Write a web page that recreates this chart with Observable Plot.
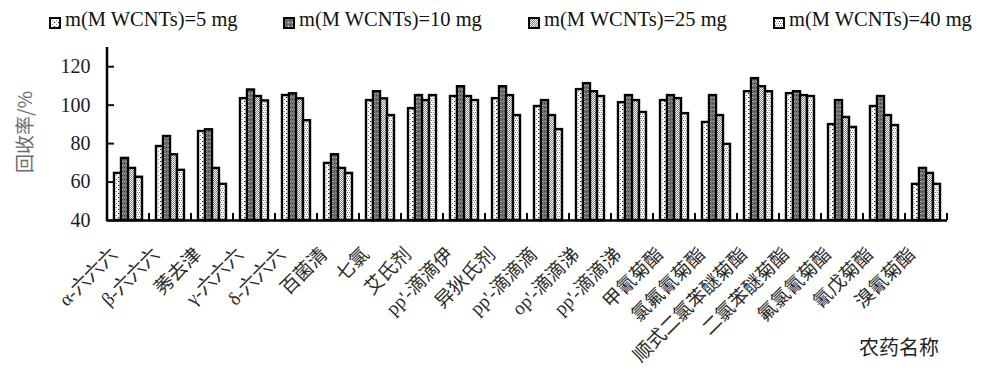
<!DOCTYPE html>
<html><head><meta charset="utf-8">
<script src="https://cdn.jsdelivr.net/npm/d3@7"></script>
<script src="https://cdn.jsdelivr.net/npm/@observablehq/plot@0.6"></script>
<style>
body{margin:0;background:#fff;}
#wrap{position:relative;width:989px;height:392px;overflow:hidden;font-family:"Liberation Serif","Noto Sans CJK SC",serif;}
#chart{position:absolute;left:0;top:0;}
.leg{position:absolute;top:9px;font-size:20.5px;line-height:20px;color:#111;white-space:nowrap;font-family:"Liberation Serif",serif;}
.sw{position:absolute;top:17px;width:12px;height:12px;}
#ytitle{position:absolute;left:24px;top:132px;transform:translate(-50%,-50%) rotate(-90deg);font-size:19px;color:#6b6b6b;white-space:nowrap;font-family:"Noto Sans CJK SC",sans-serif;line-height:20px;}
#xtitle{position:absolute;left:859px;top:337px;font-size:20px;line-height:20px;color:#222;white-space:nowrap;font-family:"Noto Sans CJK SC",sans-serif;}
</style></head><body>
<svg width="0" height="0" style="position:absolute">
<defs>
<pattern id="p5" width="4" height="4" patternUnits="userSpaceOnUse" shape-rendering="crispEdges">
 <rect width="4" height="4" fill="#fff"/><rect x="1" y="1" width="1" height="1" fill="#000"/><rect x="3" y="3" width="1" height="1" fill="#888"/>
</pattern>
<pattern id="p10" width="4" height="4" patternUnits="userSpaceOnUse" shape-rendering="crispEdges">
 <rect width="4" height="4" fill="#767676"/><rect x="1" y="1" width="1" height="1" fill="#eee"/><rect x="3" y="3" width="1" height="1" fill="#333"/>
</pattern>
<pattern id="p25" width="2" height="2" patternUnits="userSpaceOnUse" shape-rendering="crispEdges">
 <rect width="2" height="2" fill="#fff"/><rect x="0" y="0" width="1" height="1" fill="#808080"/><rect x="1" y="1" width="1" height="1" fill="#808080"/>
</pattern>
<pattern id="p40" width="4" height="4" patternUnits="userSpaceOnUse" shape-rendering="crispEdges">
 <rect width="4" height="4" fill="#fff"/><rect x="0" y="0" width="1" height="1" fill="#777"/><rect x="2" y="0" width="1" height="1" fill="#777"/><rect x="1" y="2" width="1" height="1" fill="#999"/><rect x="3" y="2" width="1" height="1" fill="#999"/>
</pattern>
</defs></svg>
<div id="wrap">
  <div id="chart"></div>
  <div id="ytitle">回收率/%</div>
  <div id="xtitle">农药名称</div>
</div>
<script>
const categories = ["α-六六六","β-六六六","莠去津","γ-六六六","δ-六六六","百菌清","七氯","艾氏剂","pp'-滴滴伊","异狄氏剂","pp'-滴滴滴","op'-滴滴涕","pp'-滴滴涕","甲氰菊酯","氯氟氰菊酯","顺式二氯苯醚菊酯","二氯苯醚菊酯","氟氯氰菊酯","氰戊菊酯","溴氰菊酯"];
const seriesNames = ["m(M WCNTs)=5 mg","m(M WCNTs)=10 mg","m(M WCNTs)=25 mg","m(M WCNTs)=40 mg"];
const seriesPatterns = ["url(#p5)","url(#p10)","url(#p25)","url(#p40)"];
const m5  = [64.5, 78.5, 86.3, 103.4, 105.0, 69.7, 102.4, 98.2, 104.5, 103.4, 99.3, 108.1, 101.3, 102.4, 91.0, 107.0, 106.0, 89.9, 99.3, 58.8];
const m10 = [72.3, 83.7, 87.2, 107.9, 105.9, 74.2, 107.0, 105.0, 109.6, 109.6, 102.4, 111.2, 105.0, 105.0, 105.0, 113.8, 107.0, 102.4, 104.5, 67.1];
const m25 = [67.1, 74.2, 67.1, 104.5, 103.3, 67.1, 103.3, 102.4, 104.5, 105.0, 94.6, 107.0, 102.4, 103.4, 94.6, 109.6, 105.0, 93.6, 94.6, 64.5];
const m40 = [62.5, 66.1, 58.8, 102.2, 91.9, 64.5, 94.6, 105.0, 102.4, 94.6, 87.3, 104.5, 96.2, 95.6, 79.6, 107.0, 104.5, 88.4, 89.4, 58.8];
const yTicks = [40, 60, 80, 100, 120];
const yMin = 40, yMax = 130;

const seriesValues = [m5, m10, m25, m40];
const rows = categories.flatMap((c, i) => seriesNames.map((s, j) => ({cat: c, series: s, value: seriesValues[j][i], fill: seriesPatterns[j]})));

const chart = Plot.plot({
  width: 989, height: 392,
  marginLeft: 102, marginRight: 37, marginTop: 47, marginBottom: 172,
  style: {fontFamily: "'Liberation Serif','Noto Sans CJK SC',serif", background: "transparent", color: "#111"},
  fx: {domain: categories, padding: 0, axis: null},
  x: {domain: seriesNames, paddingInner: 0, paddingOuter: 0.65, axis: null},
  y: {domain: [yMin, yMax], axis: null},
  color: {type: "identity"},
  marks: [
    Plot.barY(rows, {fx: "cat", x: "series", y1: yMin, y2: "value", fill: "fill", stroke: "#000", strokeWidth: 2.4}),
    Plot.ruleY([yMin], {stroke: "#000", strokeWidth: 2.5}),
    Plot.axisY(yTicks, {anchor: "left", tickSize: -7, tickPadding: 24, strokeWidth: 2, fontSize: 20, fill: "#1a1a2a", label: null}),
    Plot.text(categories, {fx: d => d, text: d => d, frameAnchor: "bottom", rotate: -45, textAnchor: "end", dx: -10, dy: 35, fontSize: 19, fill: "#2a2a2a"})
  ]
});
document.getElementById("chart").appendChild(chart);

// axis line and group boundary ticks, positioned with Plot's own scales
const ys = chart.scale("y"), fxs = chart.scale("fx");
const s = d3.select(chart);
const left = fxs.apply(categories[0]);
s.append("line").attr("x1", left).attr("x2", left).attr("y1", ys.apply(yMax)).attr("y2", ys.apply(yMin) + 1.25)
  .attr("stroke", "#000").attr("stroke-width", 2.5);
const bounds = categories.slice(1).map(c => fxs.apply(c));
bounds.push(fxs.apply(categories[categories.length - 1]) + fxs.bandwidth);
for (const b of bounds) {
  s.append("line").attr("x1", b).attr("x2", b).attr("y1", ys.apply(yMin)).attr("y2", ys.apply(yMin) - 7)
    .attr("stroke", "#000").attr("stroke-width", 2);
}

// legend
const wrap = document.getElementById("wrap");
const legX = [49, 283, 528, 773];
seriesNames.forEach((name, j) => {
  const sw = document.createElementNS("http://www.w3.org/2000/svg", "svg");
  sw.setAttribute("class", "sw"); sw.setAttribute("width", 12); sw.setAttribute("height", 12);
  sw.style.left = legX[j] + "px";
  sw.innerHTML = `<rect x="1" y="1" width="10" height="10" fill="${seriesPatterns[j]}" stroke="#000" stroke-width="2"/>`;
  wrap.appendChild(sw);
  const t = document.createElement("div");
  t.className = "leg"; t.style.left = (legX[j] + 16) + "px"; t.textContent = name;
  wrap.appendChild(t);
});
</script>
</body></html>
